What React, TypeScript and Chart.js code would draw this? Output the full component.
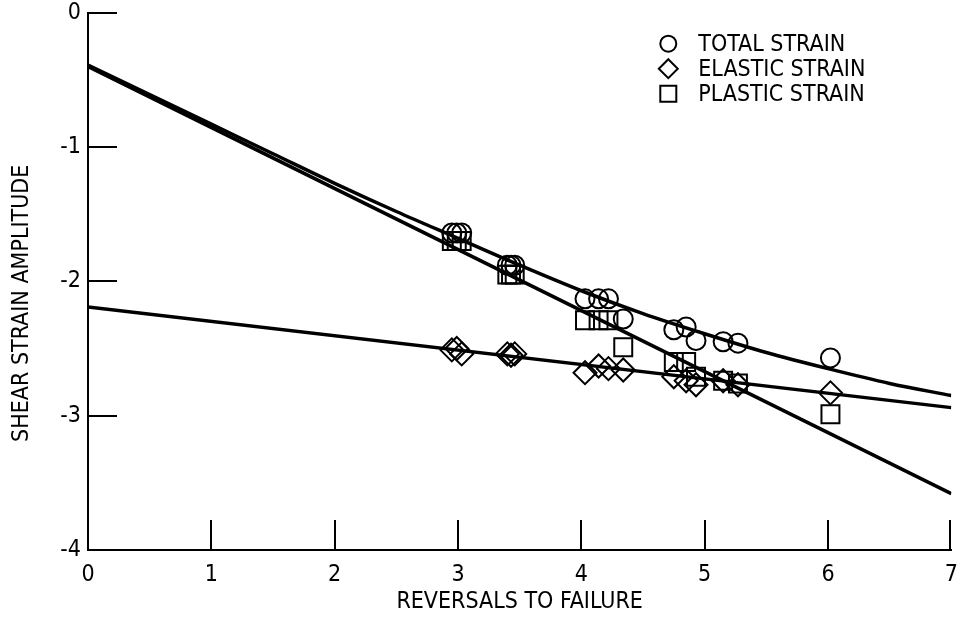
import React, { useEffect, useRef } from 'react';
import { Chart, registerables } from 'chart.js';

Chart.register(...registerables);

const FONT_FAMILY = '"Liberation Sans Narrow", "Arial Narrow", "DejaVu Sans Condensed", sans-serif';
const FONT_SIZE = 23;

// Axes
const xTickValues = [0, 1, 2, 3, 4, 5, 6, 7];
const xTickLabels = ['0', '1', '2', '3', '4', '5', '6', '7'];
const yTickValues = [0, -1, -2, -3, -4];
const yTickLabels = ['0', '-1', '-2', '-3', '-4'];
const xTitle = 'REVERSALS TO FAILURE';
const yTitle = 'SHEAR STRAIN AMPLITUDE';
const seriesNames = ['TOTAL STRAIN', 'ELASTIC STRAIN', 'PLASTIC STRAIN'];

// Test points (log reversals to failure)
const reversals = [2.95, 2.99, 3.03, 3.40, 3.43, 3.46, 4.03, 4.14, 4.22, 4.34, 4.75, 4.85, 4.93, 5.15, 5.27, 6.02];
const totalStrain = [-1.64, -1.64, -1.64, -1.88, -1.88, -1.88, -2.13, -2.13, -2.13, -2.28, -2.36, -2.34, -2.44, -2.45, -2.46, -2.57];
const elasticStrain = [-2.51, -2.50, -2.54, -2.54, -2.55, -2.54, -2.68, -2.63, -2.65, -2.66, -2.71, -2.74, -2.77, -2.74, -2.77, -2.83];
const plasticStrain = [-1.70, -1.70, -1.70, -1.95, -1.95, -1.95, -2.29, -2.29, -2.29, -2.49, -2.60, -2.60, -2.71, -2.74, -2.76, -2.99];

// Fitted curves
const totalFitX = [0, 0.5, 1, 1.5, 2, 2.5, 3, 3.5, 4, 4.5, 5, 5.5, 6, 6.5, 7];
const totalFitY = [-0.39, -0.61, -0.83, -1.05, -1.27, -1.48, -1.68, -1.88, -2.07, -2.24, -2.39, -2.53, -2.65, -2.76, -2.85];
const elasticFitX = [0, 7];
const elasticFitY = [-2.19, -2.94];
const plasticFitX = [0, 7];
const plasticFitY = [-0.40, -3.58];

const toPts = (xs: number[], ys: number[]) => xs.map((x, i) => ({ x, y: ys[i] }));

const decorPlugin = {
  id: 'decor',
  afterDraw(chart: any) {
    const ctx = chart.ctx as CanvasRenderingContext2D;
    const xs = chart.scales.x;
    const ys = chart.scales.y;
    const { left, right, top, bottom } = chart.chartArea;
    ctx.save();
    ctx.strokeStyle = '#000';
    ctx.lineWidth = 2;
    // inward y ticks
    for (const v of yTickValues) {
      if (v === -4) continue;
      const py = Math.round(ys.getPixelForValue(v));
      ctx.beginPath();
      ctx.moveTo(left, py);
      ctx.lineTo(left + 29, py);
      ctx.stroke();
    }
    // inward x ticks
    for (const v of xTickValues) {
      if (v === 0) continue;
      const px = Math.round(xs.getPixelForValue(v)) - (v === 7 ? 1 : 0);
      ctx.beginPath();
      ctx.moveTo(px, bottom);
      ctx.lineTo(px, bottom - 30);
      ctx.stroke();
    }
    // y title
    ctx.fillStyle = '#000';
    ctx.font = `${FONT_SIZE}px ${FONT_FAMILY}`;
    ctx.save();
    ctx.translate(left - 66, (top + bottom) / 2 + 22);
    ctx.rotate(-Math.PI / 2);
    ctx.textAlign = 'center';
    ctx.textBaseline = 'middle';
    ctx.fillText(yTitle, 0, 0);
    ctx.restore();
    // legend
    const mx = right - 283;
    const tx = right - 253;
    const rowY = [top + 31, top + 56, top + 81];
    ctx.textAlign = 'left';
    ctx.textBaseline = 'middle';
    ctx.lineWidth = 2;
    seriesNames.forEach((name, i) => {
      const y = rowY[i];
      ctx.beginPath();
      if (i === 0) {
        ctx.arc(mx, y, 8, 0, Math.PI * 2);
      } else if (i === 1) {
        ctx.moveTo(mx, y - 9.5);
        ctx.lineTo(mx + 9.5, y);
        ctx.lineTo(mx, y + 9.5);
        ctx.lineTo(mx - 9.5, y);
        ctx.closePath();
      } else {
        ctx.rect(mx - 8, y - 8, 16, 16);
      }
      ctx.stroke();
      ctx.fillText(name, tx, y + 1);
    });
    ctx.restore();
  },
};

export default function App() {
  const canvasRef = useRef<HTMLCanvasElement | null>(null);

  useEffect(() => {
    if (!canvasRef.current) return;
    const tickFont = { family: FONT_FAMILY, size: FONT_SIZE, lineHeight: 1 };
    const titleFont = { family: FONT_FAMILY, size: FONT_SIZE };
    const markerCommon = {
      showLine: false,
      borderColor: '#000',
      backgroundColor: 'rgba(0,0,0,0)',
      pointBorderColor: '#000',
      pointBackgroundColor: 'rgba(0,0,0,0)',
      pointBorderWidth: 2,
    };
    const lineCommon = {
      showLine: true,
      pointRadius: 0,
      borderColor: '#000',
      borderWidth: 3.5,
      backgroundColor: 'rgba(0,0,0,0)',
      fill: false,
    };
    const chart = new Chart(canvasRef.current, {
      type: 'scatter',
      data: {
        datasets: [
          { ...markerCommon, label: seriesNames[0], data: toPts(reversals, totalStrain), pointStyle: 'circle', pointRadius: 9.5 },
          { ...markerCommon, label: seriesNames[1], data: toPts(reversals, elasticStrain), pointStyle: 'rectRot', pointRadius: 11.5 },
          { ...markerCommon, label: seriesNames[2], data: toPts(reversals, plasticStrain), pointStyle: 'rect', pointRadius: 12.7 },
          { ...lineCommon, label: 'total fit', data: toPts(totalFitX, totalFitY), cubicInterpolationMode: 'monotone' },
          { ...lineCommon, label: 'elastic fit', data: toPts(elasticFitX, elasticFitY) },
          { ...lineCommon, label: 'plastic fit', data: toPts(plasticFitX, plasticFitY) },
        ],
      } as any,
      options: {
        animation: false,
        responsive: false,
        events: [],
        color: '#000',
        layout: { padding: { top: 10, right: 0, bottom: 0, left: 0 } },
        plugins: {
          legend: { display: false },
          tooltip: { enabled: false },
        },
        scales: {
          x: {
            type: 'linear',
            position: 'bottom',
            min: 0,
            max: 7,
            ticks: {
              stepSize: 1,
              font: tickFont,
              color: '#000',
              padding: 1,
              maxRotation: 0,
              autoSkip: false,
              callback: (v: any) => {
                const i = xTickValues.indexOf(Number(v));
                return i >= 0 ? xTickLabels[i] : '';
              },
            },
            grid: { display: false, drawTicks: true, tickLength: 13 },
            border: { display: true, color: '#000', width: 2 },
            title: { display: true, text: xTitle, font: titleFont, color: '#000', padding: { top: 0, bottom: 3 } },
            afterFit: (s: any) => {
              s.height = 69;
            },
          },
          y: {
            type: 'linear',
            position: 'left',
            min: -4,
            max: 0,
            ticks: {
              stepSize: 1,
              font: tickFont,
              color: '#000',
              padding: 0,
              callback: (v: any) => {
                const i = yTickValues.indexOf(Number(v));
                return i >= 0 ? yTickLabels[i] : '';
              },
            },
            grid: { display: false, drawTicks: true, tickLength: 7 },
            border: { display: true, color: '#000', width: 2 },
            afterFit: (s: any) => {
              s.width = 88;
            },
          },
        },
      } as any,
      plugins: [decorPlugin],
    });
    return () => chart.destroy();
  }, []);

  return (
    <div style={{ position: 'absolute', left: 0, top: 0, width: 958, height: 619, overflow: 'hidden', background: '#fff' }}>
      <canvas ref={canvasRef} width={966} height={621} style={{ position: 'absolute', left: 0, top: -2 }} />
    </div>
  );
}
